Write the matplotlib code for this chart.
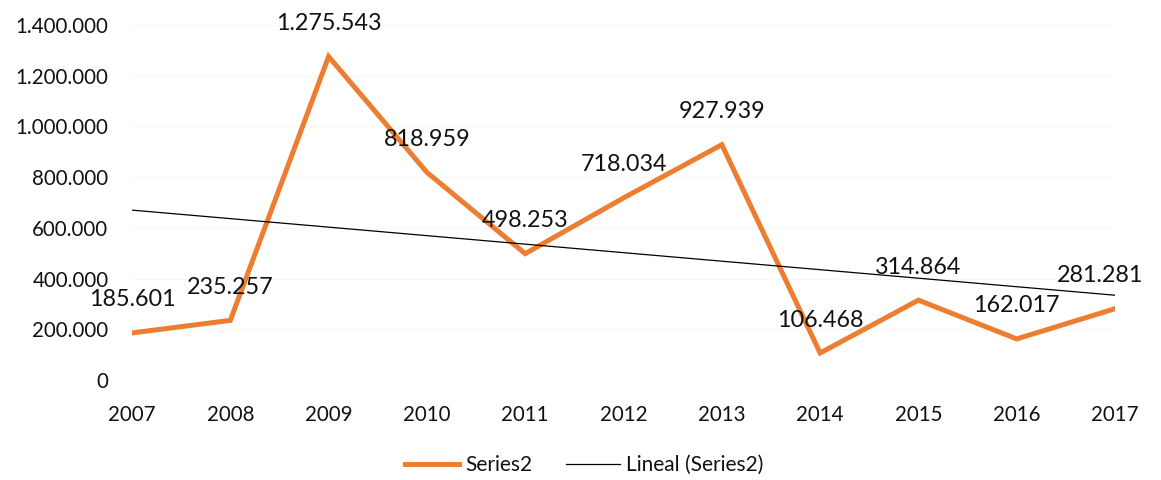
import numpy as np
import matplotlib.pyplot as plt
from matplotlib.ticker import FuncFormatter

# data
years = ["2007", "2008", "2009", "2010", "2011", "2012", "2013", "2014", "2015", "2016", "2017"]
values = [185601, 235257, 1275543, 818959, 498253, 718034, 927939, 106468, 314864, 162017, 281281]
y_ticks = [0, 200000, 400000, 600000, 800000, 1000000, 1200000, 1400000]

plt.rcParams['font.family'] = ['Lato', 'DejaVu Sans']


def dots(v, pos=None):
    # thousands separated by dots, like the original
    return f"{int(v):,}".replace(",", ".")


x = np.arange(len(years))

fig = plt.figure(figsize=(11.61, 4.8), dpi=100)
ax = fig.add_axes([0.1137, 0.2083, 0.8467, 0.7396])

ax.plot(x, values, color='#ED7D31', linewidth=3.6, label='Series2', solid_joinstyle='miter')

# linear trend line (Excel "Lineal")
slope, intercept = np.polyfit(x, values, 1)
ax.plot(x, slope * x + intercept, color='black', linewidth=0.9, label='Lineal (Series2)')

# data labels above each point
for i, v in enumerate(values):
    dx = -15 if i == len(values) - 1 else 0
    ax.annotate(dots(v), (x[i], v), xytext=(dx, 33), textcoords='offset pixels',
                ha='center', va='center', fontsize=16.8, color='#111111')

ax.set_xlim(0, len(years) - 1)
ax.set_ylim(0, 1400000)
ax.set_xticks(x)
ax.set_xticklabels(years)
ax.set_yticks(y_ticks)
ax.yaxis.set_major_formatter(FuncFormatter(dots))
ax.tick_params(axis='both', length=0, labelsize=14.8, colors='#111111')
ax.tick_params(axis='y', pad=17)
ax.tick_params(axis='x', pad=18)

ax.grid(axis='y', color='#f7f7f7', linewidth=0.8)
ax.set_axisbelow(True)
for s in ax.spines.values():
    s.set_visible(False)

leg = fig.legend(loc='center', bbox_to_anchor=(0.503, 0.031), ncol=2, frameon=False,
                 fontsize=15, handlelength=2.6, columnspacing=1.6, handletextpad=0.3)
for t in leg.get_texts():
    t.set_color('#111111')

fig.savefig('out.png', dpi=100)
